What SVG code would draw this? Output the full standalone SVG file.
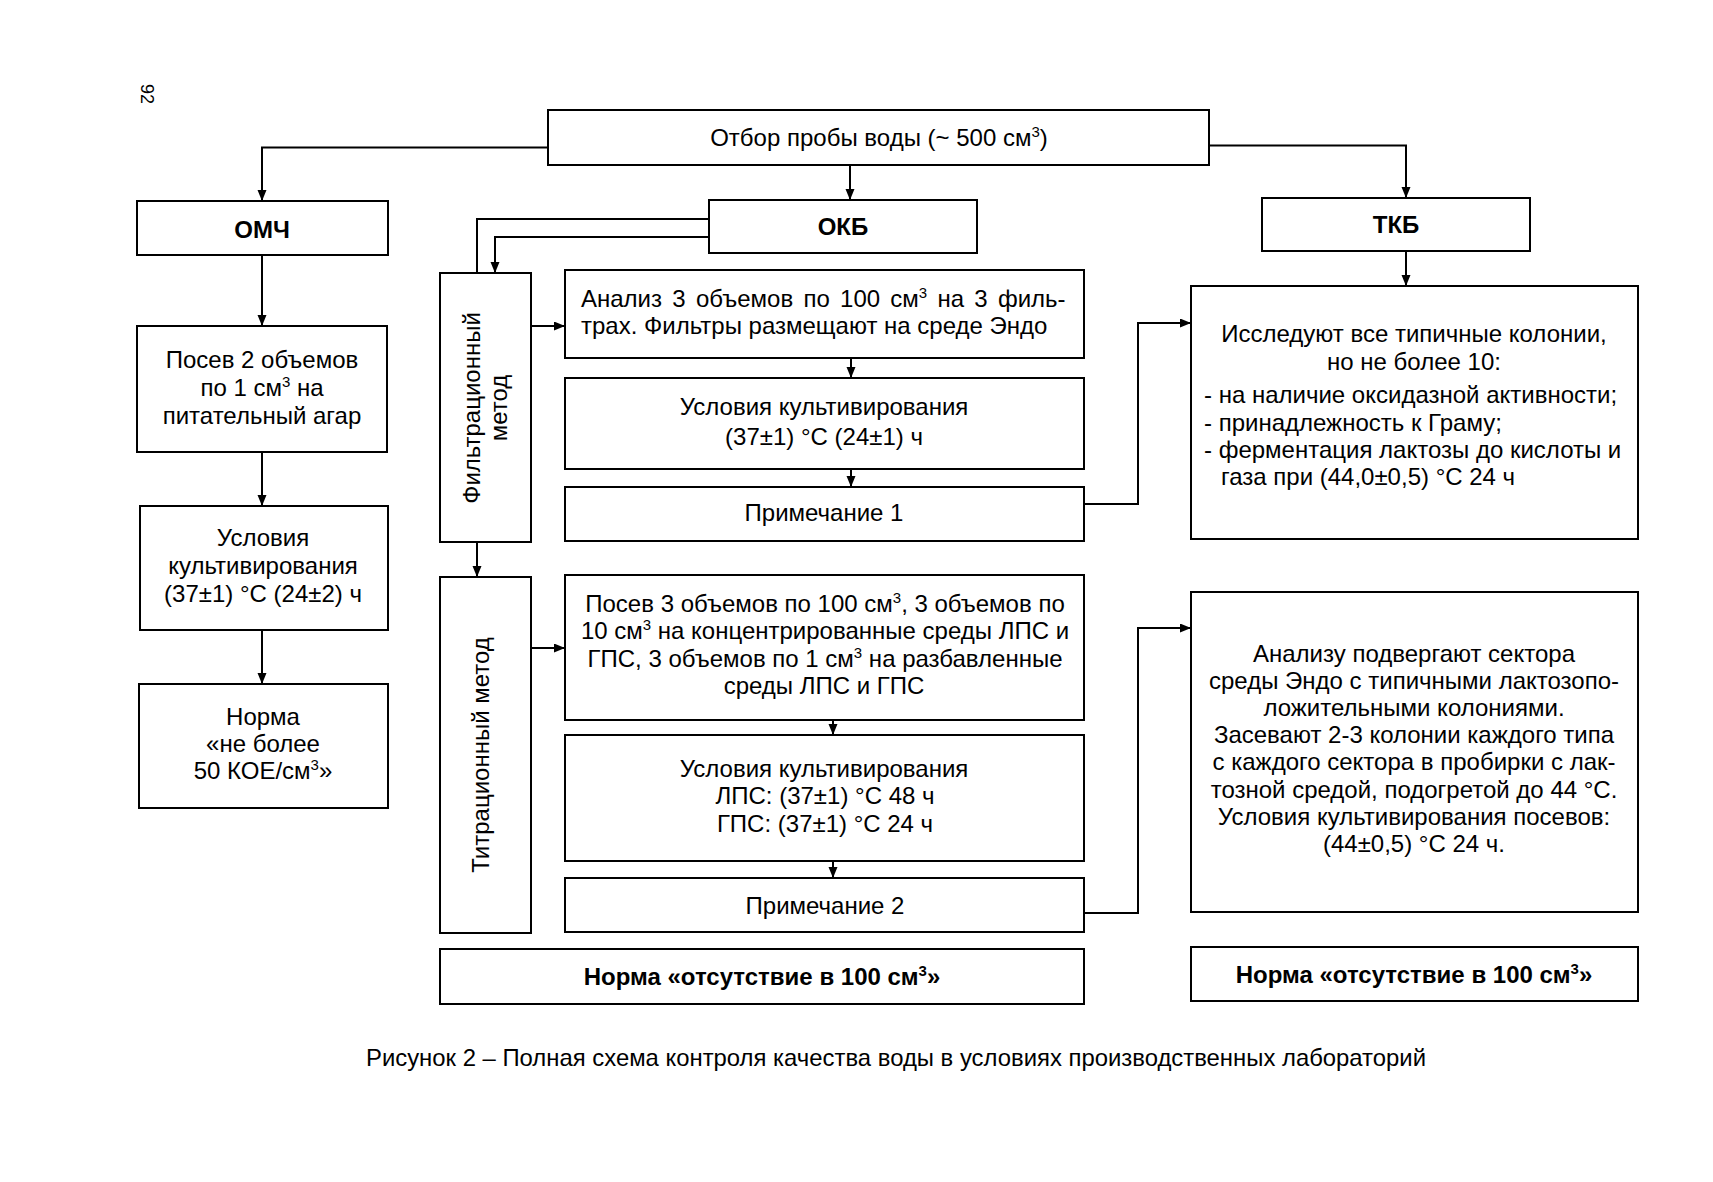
<svg xmlns="http://www.w3.org/2000/svg" width="1713" height="1182" viewBox="0 0 1713 1182">
<defs>
<style>
.box{fill:#fff;stroke:#000;stroke-width:2}
.ln{fill:none;stroke:#000;stroke-width:2}
text{font-family:"Liberation Sans",Arial,sans-serif;font-size:24px;fill:#000}
.c{text-anchor:middle}
.b{font-weight:bold}
.sup{font-size:15px}
</style>
<marker id="ah" markerUnits="userSpaceOnUse" markerWidth="12" markerHeight="10" refX="11" refY="4.5" orient="auto">
<path d="M0,0 L11,4.5 L0,9 z" fill="#000"/>
</marker>
</defs>
<rect width="1713" height="1182" fill="#fff"/>
<text transform="translate(141,94) rotate(90)" class="c" style="font-size:18px">92</text>

<g id="connectors">
<path class="ln" d="M548,147.5 H262 V201" marker-end="url(#ah)"/>
<path class="ln" d="M850,165 V200" marker-end="url(#ah)"/>
<path class="ln" d="M1209,145.5 H1406 V198" marker-end="url(#ah)"/>
<path class="ln" d="M709,237 H495 V273" marker-end="url(#ah)"/>
<path class="ln" d="M709,219 H477 V577" marker-end="url(#ah)"/>
<path class="ln" d="M262,255 V326" marker-end="url(#ah)"/>
<path class="ln" d="M262,452 V506" marker-end="url(#ah)"/>
<path class="ln" d="M262,630 V684" marker-end="url(#ah)"/>
<path class="ln" d="M531,326 H565" marker-end="url(#ah)"/>
<path class="ln" d="M851,358 V378" marker-end="url(#ah)"/>
<path class="ln" d="M851,469 V487" marker-end="url(#ah)"/>
<path class="ln" d="M1084,504 H1138 V323 H1191" marker-end="url(#ah)"/>
<path class="ln" d="M1406,251 V286" marker-end="url(#ah)"/>
<path class="ln" d="M531,648 H565" marker-end="url(#ah)"/>
<path class="ln" d="M833,720 V735" marker-end="url(#ah)"/>
<path class="ln" d="M833,861 V878" marker-end="url(#ah)"/>
<path class="ln" d="M1084,913 H1138 V628 H1191" marker-end="url(#ah)"/>
</g>

<g id="n-sample">
<rect class="box" x="548" y="110" width="661" height="55"/>
<text class="c" x="879" y="146">Отбор пробы воды (~ 500 см<tspan class="sup" dy="-9">3</tspan><tspan dy="9">)</tspan></text>
</g>
<g id="n-omch">
<rect class="box" x="137" y="201" width="251" height="54"/>
<text class="c b" x="262" y="238">ОМЧ</text>
</g>
<g id="n-okb">
<rect class="box" x="709" y="200" width="268" height="53"/>
<text class="c b" x="843" y="235">ОКБ</text>
</g>
<g id="n-tkb">
<rect class="box" x="1262" y="198" width="268" height="53"/>
<text class="c b" x="1396" y="233">ТКБ</text>
</g>

<g id="n-omch-posev">
<rect class="box" x="137" y="326" width="250" height="126"/>
<text class="c" x="262" y="368">Посев 2 объемов</text>
<text class="c" x="262" y="396">по 1 см<tspan class="sup" dy="-9">3</tspan><tspan dy="9"> на</tspan></text>
<text class="c" x="262" y="424">питательный агар</text>
</g>
<g id="n-omch-usl">
<rect class="box" x="140" y="506" width="248" height="124"/>
<text class="c" x="263" y="546">Условия</text>
<text class="c" x="263" y="574">культивирования</text>
<text class="c" x="263" y="602">(37±1) °С (24±2) ч</text>
</g>
<g id="n-omch-norma">
<rect class="box" x="139" y="684" width="249" height="124"/>
<text class="c" x="263" y="725">Норма</text>
<text class="c" x="263" y="752">«не более</text>
<text class="c" x="263" y="779">50 КОЕ/см<tspan class="sup" dy="-9">3</tspan><tspan dy="9">»</tspan></text>
</g>

<g id="n-filtr">
<rect class="box" x="440" y="273" width="91" height="269"/>
<text class="c" transform="translate(480,408) rotate(-90)">Фильтрационный</text>
<text class="c" transform="translate(507,408) rotate(-90)">метод</text>
</g>
<g id="n-titr">
<rect class="box" x="440" y="577" width="91" height="356"/>
<text class="c" transform="translate(489,755) rotate(-90)">Титрационный метод</text>
</g>

<g id="n-analiz">
<rect class="box" x="565" y="270" width="519" height="88"/>
<text x="581" y="307" word-spacing="3.6">Анализ 3 объемов по 100 см<tspan class="sup" dy="-9">3</tspan><tspan dy="9"> на 3 филь-</tspan></text>
<text x="581" y="334">трах. Фильтры размещают на среде Эндо</text>
</g>
<g id="n-usl1">
<rect class="box" x="565" y="378" width="519" height="91"/>
<text class="c" x="824" y="415">Условия культивирования</text>
<text class="c" x="824" y="445">(37±1) °С (24±1) ч</text>
</g>
<g id="n-prim1">
<rect class="box" x="565" y="487" width="519" height="54"/>
<text class="c" x="824" y="521">Примечание 1</text>
</g>

<g id="n-posev3">
<rect class="box" x="565" y="575" width="519" height="145"/>
<text class="c" x="825" y="612">Посев 3 объемов по 100 см<tspan class="sup" dy="-9">3</tspan><tspan dy="9">, 3 объемов по</tspan></text>
<text class="c" x="825" y="639">10 см<tspan class="sup" dy="-9">3</tspan><tspan dy="9"> на концентрированные среды ЛПС и</tspan></text>
<text class="c" x="825" y="667">ГПС, 3 объемов по 1 см<tspan class="sup" dy="-9">3</tspan><tspan dy="9"> на разбавленные</tspan></text>
<text class="c" x="824" y="694">среды ЛПС и ГПС</text>
</g>
<g id="n-usl2">
<rect class="box" x="565" y="735" width="519" height="126"/>
<text class="c" x="824" y="777">Условия культивирования</text>
<text class="c" x="825" y="804">ЛПС: (37±1) °С 48 ч</text>
<text class="c" x="825" y="832">ГПС: (37±1) °С 24 ч</text>
</g>
<g id="n-prim2">
<rect class="box" x="565" y="878" width="519" height="54"/>
<text class="c" x="825" y="914">Примечание 2</text>
</g>

<g id="n-norma-okb">
<rect class="box" x="440" y="949" width="644" height="55"/>
<text class="c b" x="762" y="985">Норма «отсутствие в 100 см<tspan class="sup" dy="-9">3</tspan><tspan dy="9">»</tspan></text>
</g>

<g id="n-issl">
<rect class="box" x="1191" y="286" width="447" height="253"/>
<text class="c" x="1414" y="342">Исследуют все типичные колонии,</text>
<text class="c" x="1414" y="370">но не более 10:</text>
<text x="1204" y="403">- на наличие оксидазной активности;</text>
<text x="1204" y="431">- принадлежность к Граму;</text>
<text x="1204" y="458">- ферментация лактозы до кислоты и</text>
<text x="1221" y="485">газа при (44,0±0,5) °С 24 ч</text>
</g>
<g id="n-analizu">
<rect class="box" x="1191" y="592" width="447" height="320"/>
<text class="c" x="1414" y="662">Анализу подвергают сектора</text>
<text class="c" x="1414" y="689">среды Эндо с типичными лактозопо-</text>
<text class="c" x="1414" y="716">ложительными колониями.</text>
<text class="c" x="1414" y="743">Засевают 2-3 колонии каждого типа</text>
<text class="c" x="1414" y="770">с каждого сектора в пробирки с лак-</text>
<text class="c" x="1414" y="798">тозной средой, подогретой до 44 °С.</text>
<text class="c" x="1414" y="825">Условия культивирования посевов:</text>
<text class="c" x="1414" y="852">(44±0,5) °С 24 ч.</text>
</g>
<g id="n-norma-tkb">
<rect class="box" x="1191" y="947" width="447" height="54"/>
<text class="c b" x="1414" y="983">Норма «отсутствие в 100 см<tspan class="sup" dy="-9">3</tspan><tspan dy="9">»</tspan></text>
</g>

<text class="c" x="896" y="1066" textLength="1060" lengthAdjust="spacingAndGlyphs">Рисунок 2 – Полная схема контроля качества воды в условиях производственных лабораторий</text>
</svg>
